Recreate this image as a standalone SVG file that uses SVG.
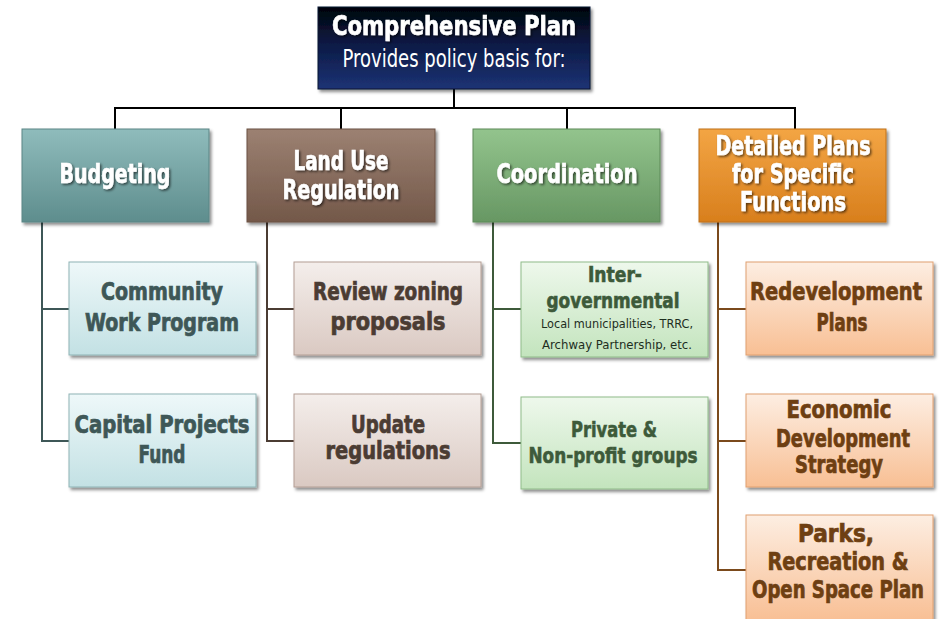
<svg xmlns="http://www.w3.org/2000/svg" width="939" height="619" viewBox="0 0 939 619">
<defs>
<linearGradient id="gTop" x1="0" y1="0" x2="0" y2="1"><stop offset="0" stop-color="#02040a"/><stop offset="0.45" stop-color="#0b1a45"/><stop offset="1" stop-color="#1d3375"/></linearGradient>
<linearGradient id="gBud" x1="0" y1="0" x2="0" y2="1"><stop offset="0" stop-color="#8fbcbc"/><stop offset="1" stop-color="#5e8d8d"/></linearGradient>
<linearGradient id="gLand" x1="0" y1="0" x2="0" y2="1"><stop offset="0" stop-color="#9c8172"/><stop offset="1" stop-color="#735849"/></linearGradient>
<linearGradient id="gCoord" x1="0" y1="0" x2="0" y2="1"><stop offset="0" stop-color="#93c48d"/><stop offset="1" stop-color="#679763"/></linearGradient>
<linearGradient id="gDet" x1="0" y1="0" x2="0" y2="1"><stop offset="0" stop-color="#f3a544"/><stop offset="1" stop-color="#d87f1d"/></linearGradient>
<linearGradient id="gBudC" x1="0" y1="0" x2="0" y2="1"><stop offset="0" stop-color="#eef8f9"/><stop offset="1" stop-color="#c3e1e4"/></linearGradient>
<linearGradient id="gLandC" x1="0" y1="0" x2="0" y2="1"><stop offset="0" stop-color="#f4eeeb"/><stop offset="1" stop-color="#dac9c2"/></linearGradient>
<linearGradient id="gCoordC" x1="0" y1="0" x2="0" y2="1"><stop offset="0" stop-color="#eef8ec"/><stop offset="1" stop-color="#c3e4bd"/></linearGradient>
<linearGradient id="gDetC" x1="0" y1="0" x2="0" y2="1"><stop offset="0" stop-color="#fdeee2"/><stop offset="1" stop-color="#f8bf94"/></linearGradient>
<filter id="shadow" x="-10%" y="-10%" width="125%" height="130%"><feDropShadow dx="2" dy="2.5" stdDeviation="1.5" flood-color="#000" flood-opacity="0.45"/></filter>
<filter id="tshadow" x="-10%" y="-20%" width="125%" height="150%"><feDropShadow dx="1.5" dy="1.5" stdDeviation="1" flood-color="#000" flood-opacity="0.6"/></filter>
</defs>
<style>
.t{font-family:"DejaVu Sans Condensed","DejaVu Sans",sans-serif;font-weight:bold;text-anchor:middle}
.r{font-family:"DejaVu Sans Condensed","DejaVu Sans",sans-serif;font-weight:normal;text-anchor:middle}
.w{fill:#ffffff;font-size:27px;stroke:#ffffff;stroke-width:0.6px}
.c{font-size:24px;stroke-width:0.7px}
.box{filter:url(#shadow)}
.conn path{fill:none;stroke-width:2}
</style>
<rect width="939" height="619" fill="#ffffff"/>
<g id="connectors" class="conn">
<path d="M454 89 V108 M115 129 V108 H795 V129 M341 108 V129 M567 108 V129" stroke="#000"/>
<path d="M42 222 V441 H69 M42 309 H69" stroke="#3e5757"/>
<path d="M267 222 V441 H294 M267 309 H294" stroke="#4b3c33"/>
<path d="M493 222 V443 H521 M493 309 H521" stroke="#3d5a3a"/>
<path d="M718 222 V570 H746 M718 309 H746 M718 441 H746" stroke="#7b4a1c"/>
</g>
<g id="top">
<rect class="box" x="318" y="7" width="272" height="82" fill="url(#gTop)" stroke="#0a1433" stroke-width="1"/>
<text class="t w" x="454" y="35" textLength="244" lengthAdjust="spacingAndGlyphs" filter="url(#tshadow)">Comprehensive Plan</text>
<text class="r" x="454" y="67" font-size="25" fill="#ffffff" textLength="223" lengthAdjust="spacingAndGlyphs">Provides policy basis for:</text>
</g>
<g id="budgeting">
<rect class="box" x="22" y="129" width="187" height="93" fill="url(#gBud)" stroke="#5a8585" stroke-width="1"/>
<text class="t w" x="115" y="183" textLength="111" lengthAdjust="spacingAndGlyphs" filter="url(#tshadow)">Budgeting</text>
</g>
<g id="landuse">
<rect class="box" x="247" y="129" width="188" height="93" fill="url(#gLand)" stroke="#6a5042" stroke-width="1"/>
<text class="t w" x="341" y="170" textLength="95" lengthAdjust="spacingAndGlyphs" filter="url(#tshadow)">Land Use</text>
<text class="t w" x="341" y="199" textLength="117" lengthAdjust="spacingAndGlyphs" filter="url(#tshadow)">Regulation</text>
</g>
<g id="coordination">
<rect class="box" x="473" y="129" width="187" height="93" fill="url(#gCoord)" stroke="#5c8a58" stroke-width="1"/>
<text class="t w" x="567" y="183" textLength="141" lengthAdjust="spacingAndGlyphs" filter="url(#tshadow)">Coordination</text>
</g>
<g id="detailed">
<rect class="box" x="699" y="129" width="187" height="93" fill="url(#gDet)" stroke="#c0701a" stroke-width="1"/>
<text class="t w" x="793" y="155" textLength="155" lengthAdjust="spacingAndGlyphs" filter="url(#tshadow)">Detailed Plans</text>
<text class="t w" x="793" y="183" textLength="122" lengthAdjust="spacingAndGlyphs" filter="url(#tshadow)">for Specific</text>
<text class="t w" x="793" y="211" textLength="106" lengthAdjust="spacingAndGlyphs" filter="url(#tshadow)">Functions</text>
</g>
<g id="community" fill="#3e5757" stroke="#3e5757">
<rect class="box" x="69" y="262" width="187" height="93" fill="url(#gBudC)" stroke="#8fb3b5" stroke-width="1"/>
<text class="t c" x="162" y="300" textLength="122" lengthAdjust="spacingAndGlyphs">Community</text>
<text class="t c" x="162" y="331" textLength="154" lengthAdjust="spacingAndGlyphs">Work Program</text>
</g>
<g id="capital" fill="#3e5757" stroke="#3e5757">
<rect class="box" x="69" y="394" width="187" height="93" fill="url(#gBudC)" stroke="#8fb3b5" stroke-width="1"/>
<text class="t c" x="162" y="433" textLength="175" lengthAdjust="spacingAndGlyphs">Capital Projects</text>
<text class="t c" x="162" y="463" textLength="47" lengthAdjust="spacingAndGlyphs">Fund</text>
</g>
<g id="review" fill="#4b3c33" stroke="#4b3c33">
<rect class="box" x="294" y="262" width="187" height="93" fill="url(#gLandC)" stroke="#b39e94" stroke-width="1"/>
<text class="t c" x="388" y="300" textLength="150" lengthAdjust="spacingAndGlyphs">Review zoning</text>
<text class="t c" x="388" y="330" textLength="115" lengthAdjust="spacingAndGlyphs">proposals</text>
</g>
<g id="update" fill="#4b3c33" stroke="#4b3c33">
<rect class="box" x="294" y="394" width="187" height="93" fill="url(#gLandC)" stroke="#b39e94" stroke-width="1"/>
<text class="t c" x="388" y="433" textLength="74" lengthAdjust="spacingAndGlyphs">Update</text>
<text class="t c" x="388" y="459" textLength="125" lengthAdjust="spacingAndGlyphs">regulations</text>
</g>
<g id="intergov" fill="#3d5a3a">
<rect class="box" x="521" y="262" width="187" height="95" fill="url(#gCoordC)" stroke="#8fbb89" stroke-width="1"/>
<text class="t" x="615" y="282" font-size="21" stroke="#3d5a3a" stroke-width="0.6" textLength="54" lengthAdjust="spacingAndGlyphs">Inter-</text>
<text class="t" x="613" y="308" font-size="21" stroke="#3d5a3a" stroke-width="0.6" textLength="133" lengthAdjust="spacingAndGlyphs">governmental</text>
<text class="r" x="617" y="328" font-size="13" fill="#1e2e1e" textLength="152" lengthAdjust="spacingAndGlyphs">Local municipalities, TRRC,</text>
<text class="r" x="617" y="349" font-size="13" fill="#1e2e1e" textLength="150" lengthAdjust="spacingAndGlyphs">Archway Partnership, etc.</text>
</g>
<g id="private" fill="#3d5a3a" stroke="#3d5a3a">
<rect class="box" x="521" y="397" width="187" height="92" fill="url(#gCoordC)" stroke="#8fbb89" stroke-width="1"/>
<text class="t" x="614" y="437" font-size="22" stroke-width="0.6" textLength="86" lengthAdjust="spacingAndGlyphs">Private &amp;</text>
<text class="t" x="613" y="463" font-size="22" stroke-width="0.6" textLength="169" lengthAdjust="spacingAndGlyphs">Non-profit groups</text>
</g>
<g id="redevelopment" fill="#6e3f12" stroke="#6e3f12">
<rect class="box" x="746" y="262" width="187" height="93" fill="url(#gDetC)" stroke="#e0a070" stroke-width="1"/>
<text class="t c" x="836" y="300" textLength="172" lengthAdjust="spacingAndGlyphs">Redevelopment</text>
<text class="t c" x="842" y="331" textLength="51" lengthAdjust="spacingAndGlyphs">Plans</text>
</g>
<g id="economic" fill="#6e3f12" stroke="#6e3f12">
<rect class="box" x="746" y="394" width="187" height="93" fill="url(#gDetC)" stroke="#e0a070" stroke-width="1"/>
<text class="t c" x="839" y="418" textLength="105" lengthAdjust="spacingAndGlyphs">Economic</text>
<text class="t c" x="843" y="447" textLength="134" lengthAdjust="spacingAndGlyphs">Development</text>
<text class="t c" x="839" y="473" textLength="88" lengthAdjust="spacingAndGlyphs">Strategy</text>
</g>
<g id="parks" fill="#6e3f12" stroke="#6e3f12">
<rect class="box" x="746" y="515" width="187" height="106" fill="url(#gDetC)" stroke="#e0a070" stroke-width="1"/>
<text class="t c" x="836" y="542" textLength="76" lengthAdjust="spacingAndGlyphs">Parks,</text>
<text class="t c" x="838" y="570" textLength="141" lengthAdjust="spacingAndGlyphs">Recreation &amp;</text>
<text class="t c" x="838" y="598" font-size="23" textLength="172" lengthAdjust="spacingAndGlyphs">Open Space Plan</text>
</g>
</svg>
